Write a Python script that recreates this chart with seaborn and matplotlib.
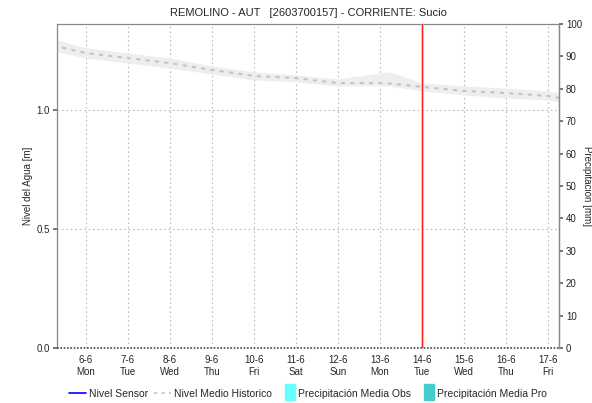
import pandas as pd
import seaborn as sns
import matplotlib.pyplot as plt
import matplotlib.dates as mdates
from matplotlib.lines import Line2D
from matplotlib.patches import Patch, Rectangle
from matplotlib.legend_handler import HandlerPatch

# Serie historica (nivel medio y banda min/max)
fechas = ["2022-06-05 00:00", "2022-06-06 00:00", "2022-06-07 00:00", "2022-06-08 00:00",
          "2022-06-09 00:00", "2022-06-10 00:00", "2022-06-11 00:00", "2022-06-12 00:00",
          "2022-06-13 00:00", "2022-06-13 06:00", "2022-06-14 00:00", "2022-06-15 00:00",
          "2022-06-16 00:00", "2022-06-17 00:00", "2022-06-18 00:00"]
nivel_medio = [1.280, 1.239, 1.218, 1.197, 1.168, 1.143, 1.134, 1.113,
               1.113, 1.111, 1.097, 1.080, 1.071, 1.059, 1.030]
banda_sup = [1.310, 1.261, 1.239, 1.218, 1.185, 1.160, 1.147, 1.130,
             1.155, 1.160, 1.113, 1.101, 1.092, 1.080, 1.055]
banda_inf = [1.255, 1.218, 1.197, 1.176, 1.151, 1.126, 1.118, 1.101,
             1.101, 1.100, 1.080, 1.063, 1.050, 1.042, 1.015]

# Nivel del sensor: sin datos en el periodo
sensor_fechas = []
sensor_valores = []

fecha_actual = "2022-06-14 00:00"
titulo = "REMOLINO - AUT   [2603700157] - CORRIENTE: Sucio"

df = pd.DataFrame({"fecha": pd.to_datetime(fechas), "medio": nivel_medio,
                   "sup": banda_sup, "inf": banda_inf})

sns.set_theme(style="white")
plt.rcParams["font.family"] = ["Liberation Sans", "DejaVu Sans"]

fig = plt.figure(figsize=(5.92, 4.03), dpi=100)
ax = fig.add_axes([57 / 592, 1 - 348 / 403, 502 / 592, 324 / 403])

ax.fill_between(df["fecha"], df["inf"], df["sup"], color="#eeeeee", lw=0, zorder=1)
sns.lineplot(data=df, x="fecha", y="medio", ax=ax, color="#c4c4c4", lw=1.5,
             linestyle=(0, (2, 2.5)), zorder=2)
ax.plot(pd.to_datetime(sensor_fechas), sensor_valores, color="blue", lw=1)
ax.axvline(pd.Timestamp(fecha_actual), color="#ffc0c0", lw=2.2, alpha=0.5, zorder=3)
ax.axvline(pd.Timestamp(fecha_actual), color="#ff2020", lw=1.0, zorder=3)

ax.set_xlim(pd.Timestamp("2022-06-05 07:30"), pd.Timestamp("2022-06-17 06:30"))
ax.set_ylim(0, 1.361)
ax.set_yticks([0.0, 0.5, 1.0])
ax.yaxis.set_major_formatter(plt.FormatStrFormatter("%.1f"))
ax.xaxis.set_major_locator(mdates.DayLocator())
ax.xaxis.set_major_formatter(plt.FuncFormatter(
    lambda v, p: "%d-%d\n%s" % (mdates.num2date(v).day, mdates.num2date(v).month,
                                mdates.num2date(v).strftime("%a"))))

ax.grid(True, color="#bbbbbb", linestyle=(0, (1.5, 2.5)), lw=0.8)
ax.axhline(0, color="#444444", linestyle=(0, (1, 1)), lw=1.2, zorder=4, clip_on=False)
for s in ax.spines.values():
    s.set_color("#888888")
    s.set_linewidth(0.9)
ax.spines["bottom"].set_visible(False)
ax.tick_params(axis="both", labelsize=7, length=3, color="#666666", pad=2,
               left=True, bottom=False)
ax.set_xlabel("")
ax.set_ylabel("Nivel del Agua [m]", fontsize=7)
ax.yaxis.set_label_coords(-0.048, 0.5)

ax2 = ax.twinx()
ax2.set_ylim(0, 100)
ax2.set_yticks(range(0, 101, 10))
ax2.tick_params(axis="y", labelsize=7, length=3, color="#666666", pad=2, right=True)
for s in ax2.spines.values():
    s.set_visible(False)
ax2.spines["right"].set_visible(True)
ax2.spines["right"].set_color("#888888")
ax2.spines["right"].set_linewidth(0.9)
fig.text(587 / 592, 1 - 186 / 403, "Precipitación [mm]",
         fontsize=7, rotation=270, ha="center", va="center")

ax.set_title(titulo, fontsize=8, pad=6)


def rect_estrecho(legend, orig_handle, xdescent, ydescent, width, height, fontsize):
    return Rectangle((xdescent + width - 7, ydescent - 2.5), 7, height + 5)


handles = [Line2D([], [], color="blue", lw=1.2),
           Line2D([], [], color="#c4c4c4", lw=1.2, linestyle=(0, (2, 2.5))),
           Patch(color="#66ffff"), Patch(color="#44cccc")]
labels = ["Nivel Sensor", "Nivel Medio Historico", "Precipitación Media Obs",
          "Precipitación Media Pro"]
fig.legend(handles, labels, loc="center", bbox_to_anchor=(0.52, 1 - 394 / 403),
           ncol=4, frameon=False, fontsize=7.5, handlelength=1.6, handletextpad=0.3,
           columnspacing=0.6, handleheight=0.9,
           handler_map={Patch: HandlerPatch(patch_func=rect_estrecho)})

fig.savefig("out.png", dpi=100)
